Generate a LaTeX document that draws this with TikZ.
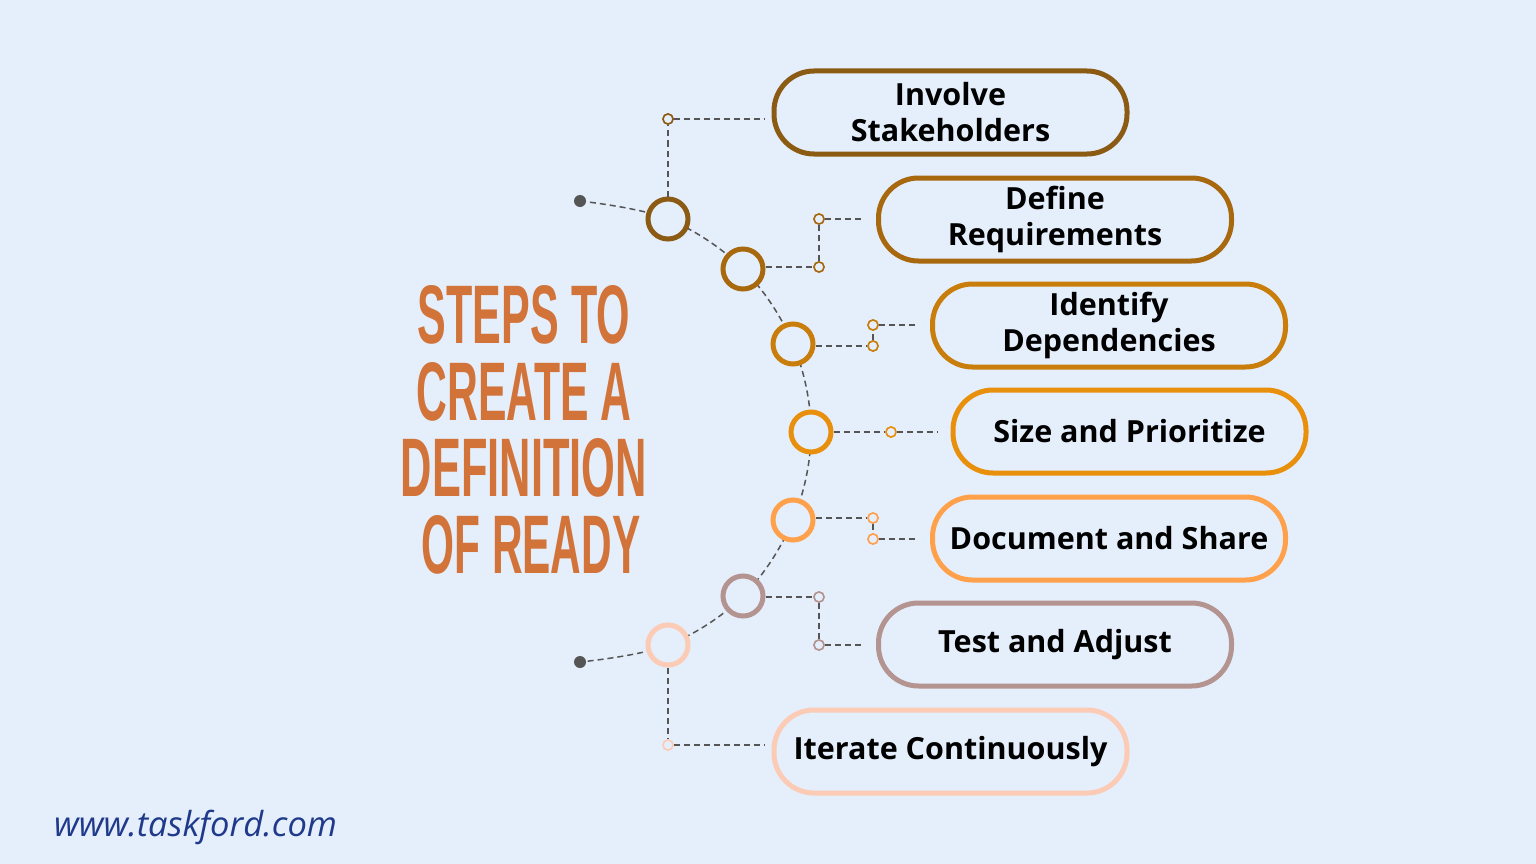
\documentclass[tikz,border=0pt]{standalone}
\usepackage{fontspec}
\setmainfont{Open Sans}
\usepackage{graphicx}
\definecolor{bg}{HTML}{E5EEFB}
\definecolor{cA}{HTML}{8B5A13}
\definecolor{cB}{HTML}{A8690E}
\definecolor{cC}{HTML}{C97D0A}
\definecolor{cD}{HTML}{E8900C}
\definecolor{cE}{HTML}{FFA04A}
\definecolor{cF}{HTML}{B49490}
\definecolor{cG}{HTML}{FCCBB5}
\definecolor{ttl}{HTML}{D2743A}
\definecolor{url}{HTML}{1F3A8A}
\definecolor{dsh}{HTML}{555555}
\tikzset{
 pill/.style={draw=#1,line width=5pt,rounded corners=40pt,minimum width=353pt,minimum height=83pt,align=center,font=\bfseries\fontsize{30.5}{36}\selectfont,fill=bg},
 big/.style={circle,draw=#1,line width=5pt,minimum size=40pt,inner sep=0,fill=bg},
 sm/.style={circle,draw=#1,line width=1.5pt,minimum size=10pt,inner sep=0,fill=bg},
 dl/.style={dash pattern=on 6pt off 4pt,draw=dsh,line width=1.5pt},
 dot/.style={circle,fill=dsh,minimum size=12pt,inner sep=0},
 ttlf/.style={text=ttl,font=\fontspec{Liberation Sans}\bfseries}
}
\begin{document}
\begin{tikzpicture}[x=1pt,y=-1pt]
\fill[bg] (0,0) rectangle (1536,864);
\useasboundingbox (0,0) rectangle (1536,864);
% curve
\draw[dl] plot[smooth,tension=0.6] coordinates {(580,201) (668,219) (743,269) (793,344) (811,432) (793,520) (743,596) (668,645) (580,662)};
\node[dot] (d1) at (580,201) {};
\node[dot] (d2) at (580,662) {};
% boxes
\node[pill=cA] (b1) at (950.5,112.5) {Involve\\Stakeholders};
\node[pill=cB] (b2) at (1055,219.5) {Define\\Requirements};
\node[pill=cC] (b3) at (1109,325.5) {Identify\\Dependencies};
\node[pill=cD] (b4) at (1129.5,431.5) {Size and Prioritize};
\node[pill=cE] (b5) at (1109,538.5) {Document and Share};
\node[pill=cF] (b6) at (1055,644.5) {Test and Adjust};
\node[pill=cG] (b7) at (950.5,751.5) {Iterate Continuously};
% connectors
\coordinate (e1) at (765,119); \coordinate (e2) at (863,219); \coordinate (e3) at (917,325);
\coordinate (e4) at (937,432); \coordinate (e5) at (917,539); \coordinate (e6) at (863,645); \coordinate (e7) at (765,745);
\node[sm=cA] (s1) at (668,119) {};
\node[sm=cB] (s2a) at (819,267) {}; \node[sm=cB] (s2b) at (819,219) {};
\node[sm=cC] (s3a) at (873,346) {}; \node[sm=cC] (s3b) at (873,325) {};
\node[sm=cD] (s4) at (891,432) {};
\node[sm=cE] (s5a) at (873,518) {}; \node[sm=cE] (s5b) at (873,539) {};
\node[sm=cF] (s6a) at (819,597) {}; \node[sm=cF] (s6b) at (819,645) {};
\node[sm=cG] (s7) at (668,745) {};
\node[big=cA] (c1) at (668,219) {};
\node[big=cB] (c2) at (743,269) {};
\node[big=cC] (c3) at (793,344) {};
\node[big=cD] (c4) at (811,432) {};
\node[big=cE] (c5) at (793,520) {};
\node[big=cF] (c6) at (743,596) {};
\node[big=cG] (c7) at (668,645) {};
\draw[dl] (c1) -- (s1) -- (e1);
\draw[dl] (c2.east|-s2a) -- (s2a) -- (s2b) -- (e2);
\draw[dl] (c3.east|-s3a) -- (s3a) -- (s3b) -- (e3);
\draw[dl] (c4) -- (s4) -- (e4);
\draw[dl] (c5.east|-s5a) -- (s5a) -- (s5b) -- (e5);
\draw[dl] (c6.east|-s6a) -- (s6a) -- (s6b) -- (e6);
\draw[dl] (c7) -- (s7) -- (e7);
\foreach \n/\c in {s1/cA,s2a/cB,s2b/cB,s3a/cC,s3b/cC,s4/cD,s5a/cE,s5b/cE,s6a/cF,s6b/cF,s7/cG}
  \node[sm=\c] at (\n) {};
% title
\node[ttlf,inner sep=0] (t1) at (524,315) {\resizebox{212pt}{58pt}{STEPS TO}};
\node[ttlf,inner sep=0] (t2) at (524,392) {\resizebox{215pt}{58pt}{CREATE A}};
\node[ttlf,inner sep=0] (t3) at (524,468) {\resizebox{246pt}{58pt}{DEFINITION}};
\node[ttlf,inner sep=0] (t4) at (531,545) {\resizebox{219pt}{58pt}{OF READY}};
\node[anchor=west,text=url,font=\itshape\fontsize{34.5}{40}\selectfont,inner sep=0] (u) at (54,827) {www.taskford.com};
\end{tikzpicture}
\end{document}
